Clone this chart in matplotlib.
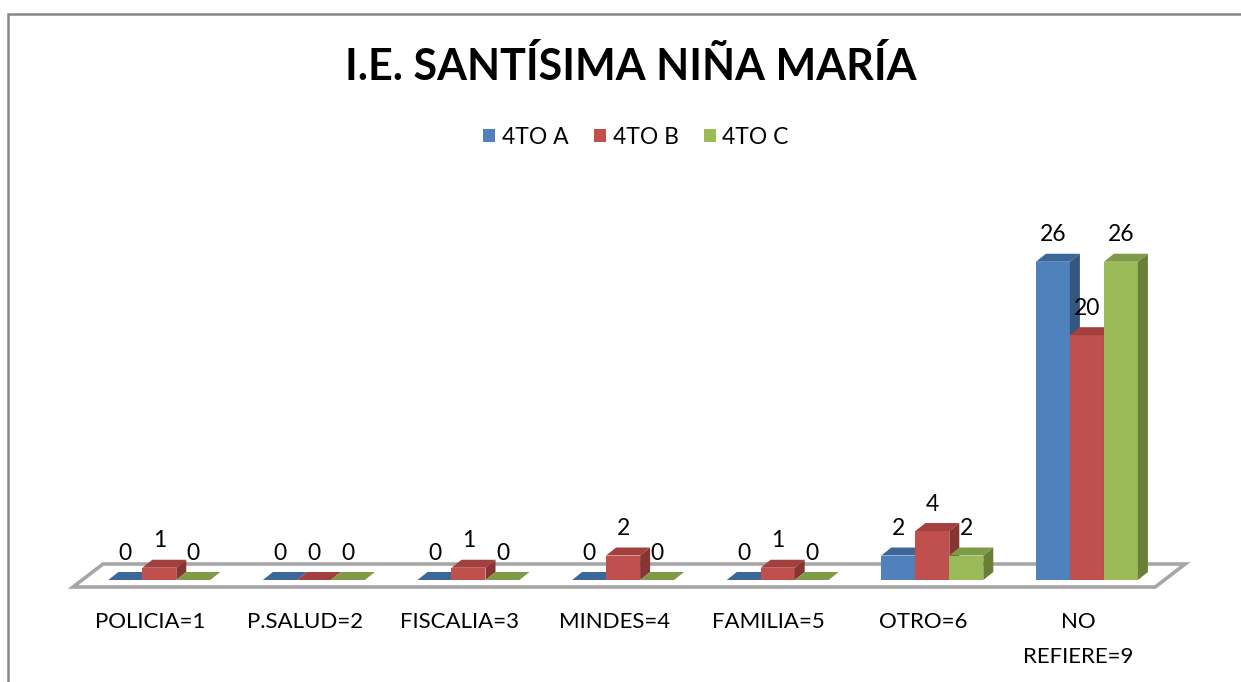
import matplotlib.pyplot as plt
from matplotlib.patches import Polygon, Patch, Rectangle

plt.rcParams['font.family'] = ['Lato', 'DejaVu Sans']

categories = ['POLICIA=1', 'P.SALUD=2', 'FISCALIA=3', 'MINDES=4', 'FAMILIA=5', 'OTRO=6', 'NO\nREFIERE=9']
series = ['4TO A', '4TO B', '4TO C']
val_a = [0, 0, 0, 0, 0, 2, 26]
val_b = [1, 0, 1, 2, 1, 4, 20]
val_c = [0, 0, 0, 0, 0, 2, 26]

front = ['#4F81BD', '#C0504D', '#9BBB59']
top = ['#3E6799', '#A3403D', '#7E9B47']
side = ['#34567F', '#873532', '#687F38']

# pixel layout of the Excel picture
W, H = 1241, 682
SLOT = 154.6      # px per category
X0 = 82           # px of x = -0.5
PXU = 12.24       # px per value unit
Y0 = 580          # px of value 0
bw = 34 / SLOT
dx = 10 / SLOT
dy = 8 / PXU

fig = plt.figure(figsize=(W / 100, H / 100), dpi=100)
ax = fig.add_axes([0, 0, 1, 1])
ax.set_xlim(-0.5 - X0 / SLOT, -0.5 + (W - X0) / SLOT)
ax.set_ylim(-(H - Y0) / PXU, Y0 / PXU)
ax.axis('off')

# chart frame
fig.patches.append(Rectangle((8 / W, -0.1), 1.2, 1 - 14 / H + 0.1, transform=fig.transFigure,
                             fill=False, edgecolor='#878787', lw=1.8))

# floor
n = len(categories)
fl = -0.5 - 9 / SLOT
fr = n - 0.5 - 9 / SLOT
fy0 = -7 / PXU
fy1 = 16 / PXU
fdx = 30 / SLOT
ax.add_patch(Polygon([(fl, fy0), (fr, fy0), (fr + fdx, fy1), (fl + fdx, fy1)],
                     closed=True, facecolor='white', edgecolor='#A6A6A6', lw=2.6, zorder=1))

z = 2
for i in range(n):
    for k, vals in enumerate([val_a, val_b, val_c]):
        v = vals[i]
        x0 = i - 1.5 * bw + k * bw
        x1 = x0 + bw
        ax.add_patch(Polygon([(x0, 0), (x1, 0), (x1, v), (x0, v)], closed=True,
                             facecolor=front[k], edgecolor='none', zorder=z))
        ax.add_patch(Polygon([(x0, v), (x1, v), (x1 + dx, v + dy), (x0 + dx, v + dy)], closed=True,
                             facecolor=top[k], edgecolor='none', zorder=z))
        ax.add_patch(Polygon([(x1, 0), (x1 + dx, dy), (x1 + dx, v + dy), (x1, v)], closed=True,
                             facecolor=side[k], edgecolor='none', zorder=z))
        z += 1
        ax.annotate(str(v), (x0 + bw / 2, v), xytext=(0, 27), textcoords='offset pixels',
                    ha='center', va='center', fontsize=16.5, zorder=100)
    ax.text(i - 9 / SLOT, -(612 - Y0) / PXU, categories[i], ha='center', va='top',
            fontsize=16, linespacing=1.95)

fig.text(631 / W, 1 - 66 / H, 'I.E. SANTÍSIMA NIÑA MARÍA', ha='center', va='center',
         fontsize=31, fontweight='bold')

handles = [Patch(facecolor=c) for c in front]
fig.legend(handles, series, loc='center', bbox_to_anchor=(636 / W, 1 - 137 / H), ncol=3,
           frameon=False, fontsize=16.5, handlelength=0.52, handleheight=0.52,
           handletextpad=0.3, columnspacing=1.1)

fig.savefig('out.png', dpi=100)
